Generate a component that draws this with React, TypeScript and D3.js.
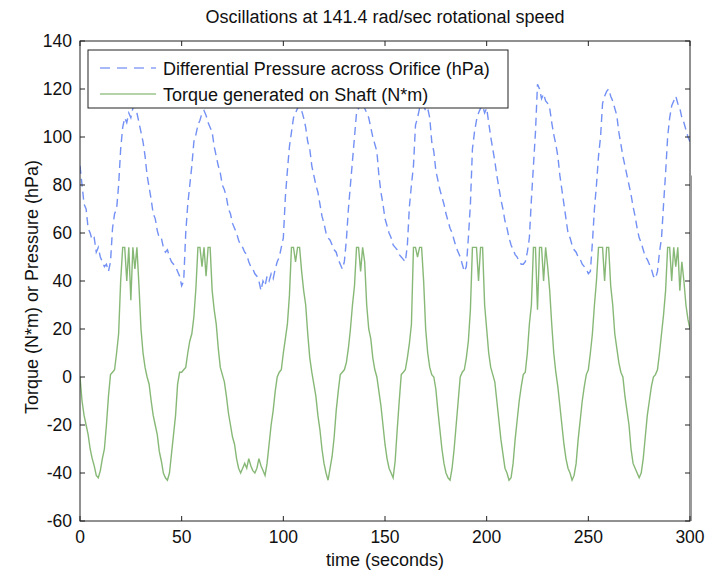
import React from "react";
import * as d3 from "d3";

const title = "Oscillations at 141.4 rad/sec rotational speed";
const xLabel = "time (seconds)";
const yLabel = "Torque (N*m) or Pressure (hPa)";
const seriesNames = ["Differential Pressure across Orifice (hPa)", "Torque generated on Shaft (N*m)"];
const xTicks = [0, 50, 100, 150, 200, 250, 300];
const yTicks = [-60, -40, -20, 0, 20, 40, 60, 80, 100, 120, 140];

// one sample per second, t = 0..300
const pressure = [
  88, 80, 72, 70, 62, 60, 57, 58, 52, 54, 50, 48, 46, 47, 44, 48, 62, 68, 70, 80,
  95, 104, 108, 106, 110, 108, 112, 113, 110, 106, 102, 98, 92, 84, 79, 74, 68, 66, 61, 58,
  58, 54, 52, 53, 50, 48, 47, 46, 44, 42, 38, 40, 60, 72, 80, 88, 98, 101, 105, 107,
  110, 111, 109, 106, 104, 102, 96, 92, 88, 85, 80, 78, 75, 70, 68, 64, 62, 60, 57, 55,
  54, 52, 51, 48, 46, 45, 43, 42, 40, 36, 40, 38, 42, 40, 43, 41, 45, 48, 50, 54,
  58, 75, 86, 96, 102, 108, 110, 112, 113, 111, 108, 104, 98, 95, 88, 84, 80, 77, 72, 67,
  64, 60, 58, 57, 55, 53, 52, 49, 47, 45, 48, 57, 70, 80, 90, 100, 110, 112, 114, 115,
  112, 110, 108, 104, 100, 97, 94, 84, 77, 72, 66, 63, 60, 58, 55, 54, 53, 51, 50, 49,
  48, 55, 71, 80, 88, 105, 108, 112, 114, 113, 111, 112, 108, 98, 94, 86, 82, 78, 75, 72,
  68, 65, 62, 60, 57, 54, 52, 50, 47, 44, 46, 58, 72, 95, 102, 107, 110, 112, 113, 110,
  112, 106, 100, 95, 90, 84, 79, 74, 70, 65, 62, 58, 55, 53, 51, 50, 48, 47, 47, 48,
  52, 58, 74, 88, 102, 122, 120, 116, 118, 115, 114, 112, 106, 101, 97, 92, 84, 78, 72, 66,
  60, 58, 55, 53, 52, 50, 49, 47, 46, 45, 43, 44, 56, 70, 80, 92, 100, 114, 117, 119,
  120, 117, 115, 112, 109, 102, 97, 92, 88, 84, 80, 76, 71, 67, 62, 58, 56, 53, 50, 49,
  47, 45, 42, 41, 44, 52, 58, 72, 85, 100, 108, 113, 115, 117, 114, 112, 108, 106, 103, 100,
  98,
];

const torque = [
  0, -10, -16, -20, -24, -30, -34, -37, -41, -42, -39, -34, -30, -20, -8, 1, 2, 3, 10, 18,
  40, 54, 54, 40, 54, 32, 54, 45, 54, 38, 20, 10, 4, 0, -3, -10, -16, -20, -24, -31,
  -35, -40, -42, -43, -40, -32, -24, -16, -3, 2, 2, 3, 4, 10, 15, 18, 25, 37, 54, 54,
  46, 54, 42, 54, 54, 36, 28, 22, 12, 4, 1, -2, -8, -15, -20, -25, -28, -34, -38, -40,
  -38, -36, -38, -34, -37, -39, -40, -38, -34, -37, -39, -41, -36, -28, -20, -14, -6, 0, 2, 3,
  10, 16, 22, 34, 54, 54, 48, 54, 54, 44, 36, 30, 18, 8, 2, -3, -8, -16, -22, -30,
  -36, -40, -43, -38, -33, -25, -14, -6, 1, 2, 3, 6, 12, 20, 30, 38, 54, 54, 44, 54,
  48, 30, 20, 16, 8, 3, 0, -6, -12, -20, -28, -34, -38, -40, -42, -35, -22, -10, 1, 2,
  3, 8, 14, 22, 54, 54, 50, 54, 54, 40, 20, 10, 4, 1, 0, -5, -14, -22, -30, -36,
  -40, -42, -43, -38, -30, -20, -10, 0, 2, 3, 8, 15, 28, 54, 54, 54, 40, 54, 54, 30,
  20, 10, 4, 1, -2, -10, -18, -26, -32, -38, -40, -43, -42, -36, -26, -18, -10, -4, 1, 2,
  10, 22, 30, 54, 54, 28, 54, 54, 40, 54, 46, 36, 22, 10, 2, -4, -12, -20, -28, -34,
  -38, -40, -43, -41, -36, -26, -18, -10, -4, 1, 3, 10, 18, 30, 40, 54, 54, 54, 40, 54,
  54, 38, 30, 18, 12, 6, 2, 0, -8, -14, -20, -30, -36, -38, -40, -42, -40, -34, -25, -16,
  -10, -4, 0, 1, 3, 10, 18, 26, 36, 54, 54, 40, 54, 46, 54, 36, 48, 40, 30, 24,
  20,
];

const W = 707;
const H = 570;
const m = { left: 80, right: 17, top: 41, bottom: 49 };
const font = "'Liberation Sans', Arial, Helvetica, sans-serif";

export default function App() {
  const x = d3.scaleLinear().domain([0, 300]).range([m.left, W - m.right]);
  const y = d3.scaleLinear().domain([-60, 140]).range([H - m.bottom, m.top]);
  const lineP = d3
    .line<number>()
    .x((_, i) => x(i))
    .y((d) => y(d));
  const pPath = lineP(pressure) || "";
  const tPath = lineP(torque) || "";
  const x0 = x(0), x1 = x(300), y0 = y(-60), y1 = y(140);
  const tl = 5;
  const blue = "#5a7cf2";
  const green = "#72ac5e";
  const lgX = 88, lgY = 50, lgW = 420, lgH = 58;

  return (
    <svg
      width={W}
      height={H}
      style={{ position: "absolute", left: 0, top: 0, background: "#fff", display: "block" }}
      fontFamily={font}
    >
      <rect x={0} y={0} width={W} height={H} fill="#fff" />
      <text x={(x0 + x1) / 2} y={23} textAnchor="middle" fontSize={18} fill="#111">
        {title}
      </text>
      <defs>
        <clipPath id="plotclip">
          <rect x={x0} y={y1} width={x1 - x0} height={y0 - y1} />
        </clipPath>
      </defs>
      <g clipPath="url(#plotclip)">
        <path d={pPath} fill="none" stroke={blue} strokeWidth={1.4} strokeDasharray="8,5" opacity={0.85} />
        <path d={tPath} fill="none" stroke={green} strokeWidth={1.4} opacity={0.85} />
      </g>
      {/* axes box */}
      <rect x={x0} y={y1} width={x1 - x0} height={y0 - y1} fill="none" stroke="#222" strokeWidth={1} />
      <line x1={x1 + 1} x2={x1 + 1} y1={y(84)} y2={y0} stroke="#999" strokeWidth={2} />
      {xTicks.map((t) => (
        <g key={"xt" + t}>
          <line x1={x(t)} x2={x(t)} y1={y0} y2={y0 - tl} stroke="#222" />
          <line x1={x(t)} x2={x(t)} y1={y1} y2={y1 + tl} stroke="#222" />
          <text x={x(t)} y={y0 + 22} textAnchor="middle" fontSize={17.5} fill="#111">
            {t}
          </text>
        </g>
      ))}
      {yTicks.map((t) => (
        <g key={"yt" + t}>
          <line x1={x0} x2={x0 + tl} y1={y(t)} y2={y(t)} stroke="#222" />
          <line x1={x1} x2={x1 - tl} y1={y(t)} y2={y(t)} stroke="#222" />
          <text x={x0 - 8} y={y(t) + 6} textAnchor="end" fontSize={17.5} fill="#111">
            {t}
          </text>
        </g>
      ))}
      <text x={(x0 + x1) / 2} y={H - 4} textAnchor="middle" fontSize={18} fill="#111">
        {xLabel}
      </text>
      <text
        transform={`translate(${38},${(y0 + y1) / 2 + 6}) rotate(-90)`}
        textAnchor="middle"
        fontSize={18}
        fill="#111"
      >
        {yLabel}
      </text>
      {/* legend */}
      <rect x={lgX} y={lgY} width={lgW} height={lgH} fill="#fff" stroke="#222" strokeWidth={1} />
      <line x1={lgX + 12} x2={lgX + 68} y1={lgY + 18} y2={lgY + 18} stroke={blue} strokeWidth={1.4} strokeDasharray="10,7" opacity={0.7} />
      <text x={lgX + 75} y={lgY + 25} fontSize={18} fill="#111">
        {seriesNames[0]}
      </text>
      <line x1={lgX + 12} x2={lgX + 68} y1={lgY + 44} y2={lgY + 44} stroke={green} strokeWidth={1.6} opacity={0.7} />
      <text x={lgX + 75} y={lgY + 51} fontSize={18} fill="#111">
        {seriesNames[1]}
      </text>
    </svg>
  );
}
